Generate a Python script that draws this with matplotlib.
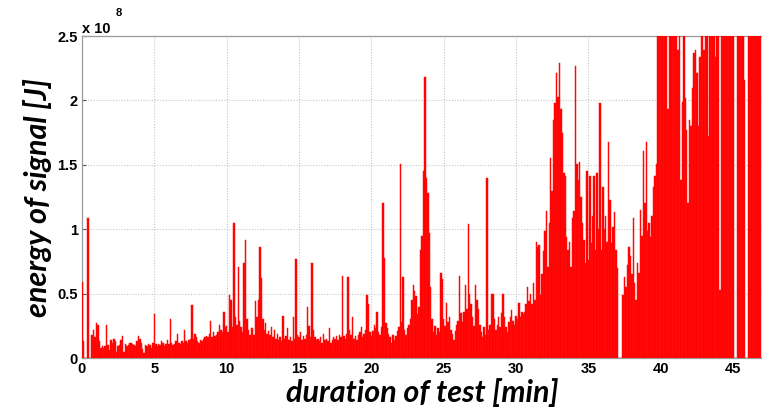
import numpy as np
import matplotlib
matplotlib.use("Agg")
import matplotlib.pyplot as plt
from matplotlib.ticker import FuncFormatter

# Signal energy per 0.1-min window, in units of 1e7 J (one line per minute)
energy_e7 = [
    5.9, 1.3, 0, 0, 10.9, 0, 0, 1.8, 2.2, 1.6,
    2.7, 2.6, 1.3, 0.8, 0.9, 0.8, 0.9, 2.6, 1.0, 0.6,
    1.4, 1.2, 1.5, 1.3, 0.5, 0.9, 1.0, 1.4, 1.7, 0.5,
    1.1, 0.9, 1.0, 1.2, 1.2, 1.1, 1.0, 0.9, 1.3, 1.7,
    1.5, 1.2, 0.7, 0.4, 1.0, 0.9, 1.1, 1.0, 0.8, 1.2,
    3.4, 1.1, 0.9, 1.1, 1.0, 1.3, 1.2, 0.9, 1.1, 1.4,
    1.1, 3.0, 1.2, 1.0, 1.1, 1.3, 1.9, 1.2, 1.1, 1.3,
    1.2, 2.2, 1.3, 1.2, 1.4, 1.5, 4.1, 1.5, 1.9, 1.6,
    1.3, 1.2, 1.4, 1.3, 1.5, 1.6, 1.7, 1.6, 1.9, 2.9,
    1.6, 2.0, 1.7, 1.8, 2.0, 2.6, 2.2, 2.0, 3.6, 2.4,
    2.5, 2.0, 4.9, 4.5, 2.4, 10.5, 3.2, 2.6, 7.1, 2.9,
    2.4, 2.0, 7.4, 9.2, 3.0, 2.2, 1.8, 2.3, 2.3, 1.8,
    4.4, 3.2, 4.5, 8.6, 6.2, 3.0, 2.2, 2.7, 1.9, 2.1,
    1.8, 2.4, 1.6, 2.2, 1.5, 1.9, 1.4, 1.6, 1.3, 3.3,
    1.5, 1.7, 2.3, 1.4, 1.6, 1.3, 3.2, 1.5, 7.7, 1.8,
    1.6, 2.0, 1.4, 1.7, 1.5, 1.8, 4.0, 2.5, 1.6, 7.4,
    2.2, 1.6, 1.4, 1.5, 1.3, 1.6, 1.2, 1.9, 1.4, 1.5,
    1.3, 2.3, 1.2, 1.4, 1.6, 1.5, 1.7, 1.4, 1.8, 1.6,
    6.4, 1.7, 1.5, 1.9, 6.3, 2.2, 1.8, 3.2, 1.5, 1.7,
    1.4, 1.8, 2.0, 2.4, 1.6, 1.9, 2.2, 4.9, 4.2, 2.0,
    1.7, 2.1, 2.6, 2.3, 3.6, 2.0, 1.8, 2.4, 12.0, 7.8,
    2.7, 2.3, 1.9, 1.6, 1.2, 1.8, 1.4, 1.7, 2.1, 2.4,
    15.1, 2.8, 6.3, 2.2, 1.8, 2.3, 2.6, 3.0, 4.5, 5.7,
    5.2, 4.8, 3.4, 4.0, 8.4, 9.5, 14.5, 21.8, 14.0, 12.8,
    9.7, 5.5, 3.0, 2.0, 2.5, 1.8, 2.3, 2.0, 6.6, 6.1,
    3.0, 2.5, 4.3, 2.8, 3.2, 2.2, 1.9, 1.4, 2.1, 2.6,
    2.9, 6.4, 3.5, 2.8, 3.6, 5.7, 3.8, 10.4, 5.0, 4.2,
    3.2, 2.5, 5.7, 4.5, 3.8, 2.6, 2.0, 1.6, 2.4, 1.8,
    14.0, 2.2, 2.6, 5.0, 5.0, 3.0, 2.2, 2.6, 3.2, 2.4,
    3.5, 5.0, 3.2, 2.4, 2.0, 2.8, 3.2, 3.7, 2.9, 2.6,
    3.3, 3.0, 4.3, 3.2, 3.6, 3.4, 3.6, 4.2, 5.5, 4.4,
    5.0, 4.2, 5.8, 4.5, 9.0, 8.6, 8.8, 4.9, 6.5, 8.3,
    9.9, 11.4, 7.1, 10.5, 15.5, 13.0, 18.5, 19.8, 22.1, 20.3,
    22.9, 19.3, 17.5, 14.4, 14.1, 9.4, 8.4, 9.0, 7.1, 10.9,
    11.4, 22.7, 15.1, 13.8, 15.2, 12.5, 10.5, 9.2, 7.4, 14.5,
    7.6, 14.1, 8.9, 11.0, 14.1, 8.4, 14.4, 10.0, 19.8, 8.4,
    13.3, 10.0, 11.0, 9.0, 16.8, 12.3, 8.9, 10.2, 11.3, 8.4,
    7.0, 0, 0, 0, 4.9, 6.3, 5.5, 7.2, 8.6, 7.9,
    6.5, 10.9, 5.8, 4.5, 7.4, 6.6, 11.5, 9.5, 16.1, 12.0,
    16.8, 9.9, 10.5, 9.4, 11.0, 13.3, 14.1, 15.1, 28.0, 30.0,
    32, 35, 30, 33, 28, 19.3, 26, 34, 30, 36,
    31, 28, 23.9, 27, 13.8, 19.9, 26, 20.2, 17.7, 12.0,
    18.5, 18.0, 21.0, 23.7, 23.9, 22.1, 18.0, 23.4, 27, 30,
    23.9, 28, 26, 17.2, 30, 34, 31, 29, 23.4, 32,
    35, 5.3, 33, 30, 36, 31, 34, 29, 33, 30,
    33, 0, 0, 31, 34, 30, 33, 29, 21.6, 0,
    0, 34, 31, 36, 30, 33, 35, 31, 34, 32,
]
sample_step_min = 0.1

x_ticks = [0, 5, 10, 15, 20, 25, 30, 35, 40, 45]
y_ticks = [0, 0.5e8, 1.0e8, 1.5e8, 2.0e8, 2.5e8]

energy_j = np.array(energy_e7) * 1e7
time_min = np.arange(len(energy_j)) * sample_step_min

fig = plt.figure(figsize=(7.62, 4.12), dpi=100)
ax = fig.add_axes([0.1076, 0.131, 0.8924, 0.7816])

ax.bar(time_min, energy_j, width=sample_step_min, color="#ff0000",
       edgecolor="#ff1010", linewidth=0.35, align="center", zorder=3)

ax.set_xlim(0, 47)
ax.set_ylim(0, 2.5e8)
ax.set_xticks(x_ticks)
ax.set_yticks(y_ticks)
ax.yaxis.set_major_formatter(FuncFormatter(lambda v, p: "%g" % (v / 1e8)))

tick_font = dict(family=["Liberation Sans", "DejaVu Sans"], weight="bold", size=10.5)
for lab in ax.get_xticklabels() + ax.get_yticklabels():
    lab.set_fontfamily(tick_font["family"])
    lab.set_fontweight("bold")
    lab.set_fontsize(tick_font["size"])

ax.tick_params(axis="both", direction="in", length=3, color="#555555", pad=3)
ax.grid(True, linestyle=(0, (1, 1.5)), color="#c8c8c8", linewidth=0.8, zorder=0)

for side in ("left", "bottom", "top"):
    ax.spines[side].set_color("#9a9a9a")
    ax.spines[side].set_linewidth(0.9)
ax.spines["right"].set_visible(False)

# Exponent marker above the y axis
fig.text(82 / 762, 1 - 33 / 412, "x 10", ha="left", va="baseline", **tick_font)
fig.text(116 / 762, 1 - 16 / 412, "8", ha="left", va="baseline",
         family=tick_font["family"], weight="bold", size=8)

label_font = dict(family=["Lato", "DejaVu Sans"], weight="bold", style="italic", size=22)
ax.set_xlabel("duration of test [min]", labelpad=1, **label_font)
ax.set_ylabel("energy of signal [J]", labelpad=4, **label_font)

fig.savefig("out.png", dpi=100)
